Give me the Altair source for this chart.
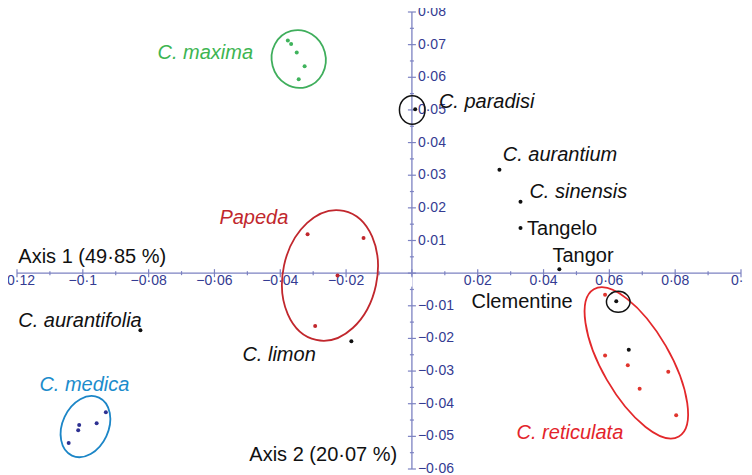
import altair as alt
import pandas as pd

# ---------------- data ----------------
maxima_x = [-0.0377, -0.0367, -0.0350, -0.0326, -0.0344]
maxima_y = [0.0713, 0.0702, 0.0676, 0.0634, 0.0594]
papeda_x = [-0.0317, -0.0147, -0.0226, -0.0294]
papeda_y = [0.0119, 0.0108, -0.0007, -0.0162]
medica_x = [-0.0930, -0.0958, -0.1011, -0.1014, -0.1043]
medica_y = [-0.0426, -0.0460, -0.0465, -0.0481, -0.0520]
reticulata_x = [0.0587, 0.0587, 0.0656, 0.0779, 0.0692, 0.0803]
reticulata_y = [-0.0066, -0.0252, -0.0282, -0.0302, -0.0354, -0.0435]
black_x = [0.0010, 0.0266, 0.0330, 0.0330, 0.0448, 0.0621, 0.0659, -0.0825, -0.0184]
black_y = [0.0502, 0.0317, 0.0219, 0.0138, 0.0012, -0.0086, -0.0235, -0.0175, -0.0209]

# ellipses: centre (data), semi-axes (px), rotation (deg), colour
ell_name = ["maxima", "papeda", "reticulata", "medica", "paradisi", "clementine"]
ell_x = [-0.0344, -0.0249, 0.0682, -0.0992, 0.0001, 0.0627]
ell_y = [0.0656, -0.0007, -0.0275, -0.0470, 0.0500, -0.0088]
ell_a = [29, 66, 85, 32, 14.3, 10.5]
ell_b = [27, 47, 34, 23, 12.8, 11.8]
ell_ang = [345, 12, 330, 25, 0, 0]
ell_col = ["#3fae5c", "#c1272d", "#e3282b", "#1c86c7", "#111111", "#111111"]

# labels
lab_text = ["C. maxima", "C. paradisi", "C. aurantium", "C. sinensis", "C. reticulata",
            "Papeda", "C. aurantifolia", "C. limon", "C. medica",
            "Tangelo", "Tangor", "Clementine", "Axis 1 (49·85 %)", "Axis 2 (20·07 %)"]
lab_x = [-0.0773, 0.0082, 0.0276, 0.0357, 0.0318,
         -0.0585, -0.1196, -0.0515, -0.1132,
         0.0350, 0.0427, 0.0181, -0.1196, -0.0494]
lab_y = [0.0656, 0.0505, 0.0345, 0.0230, -0.0508,
         0.0151, -0.0166, -0.0269, -0.0360,
         0.0118, 0.0033, -0.0106, 0.0030, -0.0577]
lab_col = ["#3db552", "#111111", "#111111", "#111111", "#e3242b",
           "#c1272d", "#111111", "#111111", "#1b8ccc",
           "#111111", "#111111", "#111111", "#111111", "#111111"]
lab_italic = [True] * 9 + [False] * 5

# axis ticks
x_major = [-0.12, -0.10, -0.08, -0.06, -0.04, -0.02, 0.0, 0.02, 0.04, 0.06, 0.08, 0.10]
x_minor = [-0.11, -0.09, -0.07, -0.05, -0.03, -0.01, 0.01, 0.03, 0.05, 0.07, 0.09]
x_labels = ["−0·12", "−0·1", "−0·08", "−0·06", "−0·04", "−0·02", "",
            "0·02", "0·04", "0·06", "0·08", "0·1"]
y_major = [-0.06, -0.05, -0.04, -0.03, -0.02, -0.01, 0.0,
           0.01, 0.02, 0.03, 0.04, 0.05, 0.06, 0.07, 0.08]
y_minor = [-0.055, -0.045, -0.035, -0.025, -0.015, -0.005,
           0.005, 0.015, 0.025, 0.035, 0.045, 0.055, 0.065, 0.075]
y_labels = ["−0·06", "−0·05", "−0·04", "−0·03", "−0·02", "−0·01", "",
            "0·01", "0·02", "0·03", "0·04", "0·05", "0·06", "0·07", "0·08"]

AXIS_COL = "#7c82c2"
TICKLAB_COL = "#343b92"
FONT = "Liberation Sans"

xs = alt.Scale(domain=[-0.12, 0.10], nice=False, zero=False)
ys = alt.Scale(domain=[-0.06, 0.08], nice=False, zero=False)

def X(f="x"):
    return alt.X(f"{f}:Q", scale=xs, axis=None)

def Y(f="y"):
    return alt.Y(f"{f}:Q", scale=ys, axis=None)

# ---------------- axes ----------------
hline = alt.Chart(pd.DataFrame({"x": [x_major[0]], "x2": [x_major[-1]], "y": [0.0]})).mark_rule(
    color=AXIS_COL, strokeWidth=1.3).encode(x=X(), x2="x2:Q", y=Y())
vline = alt.Chart(pd.DataFrame({"x": [0.0], "y": [y_major[0]], "y2": [y_major[-1]]})).mark_rule(
    color=AXIS_COL, strokeWidth=1.3).encode(x=X(), y=Y(), y2="y2:Q")

# white box of the (empty) "0" label that hides the y axis just under the x axis
zero_box = alt.Chart(pd.DataFrame({"x": [0.0], "y": [0.0]})).mark_tick(
    orient="vertical", size=11, thickness=4, color="white", opacity=1, yOffset=8, xOffset=-1.5
).encode(x=X(), y=Y())

xmaj_df = pd.DataFrame({"x": x_major, "y": [0.0] * len(x_major), "t": x_labels})
xmin_df = pd.DataFrame({"x": x_minor, "y": [0.0] * len(x_minor)})
ymaj_df = pd.DataFrame({"x": [0.0] * len(y_major), "y": y_major, "t": y_labels})
ymin_df = pd.DataFrame({"x": [0.0] * len(y_minor), "y": y_minor})

xmaj_t = alt.Chart(xmaj_df).mark_tick(orient="vertical", size=8, thickness=1.2, color=AXIS_COL, opacity=1).encode(x=X(), y=Y())
xmin_t = alt.Chart(xmin_df).mark_tick(orient="vertical", size=4, thickness=1.2, color=AXIS_COL, opacity=1).encode(x=X(), y=Y())
ymaj_t = alt.Chart(ymaj_df).mark_tick(orient="horizontal", size=8, thickness=1.2, color=AXIS_COL, opacity=1).encode(x=X(), y=Y())
ymin_t = alt.Chart(ymin_df).mark_tick(orient="horizontal", size=4, thickness=1.2, color=AXIS_COL, opacity=1).encode(x=X(), y=Y())

xlab = alt.Chart(xmaj_df).mark_text(font=FONT, fontSize=14, color=TICKLAB_COL, align="center",
                                    baseline="alphabetic", dy=12).encode(x=X(), y=Y(), text="t:N")
ylab = alt.Chart(ymaj_df).mark_text(font=FONT, fontSize=14, color=TICKLAB_COL, align="left",
                                    baseline="middle", dx=6).encode(x=X(), y=Y(), text="t:N")

# ---------------- points ----------------
def pts(xv, yv, col):
    return alt.Chart(pd.DataFrame({"x": xv, "y": yv})).mark_circle(size=16, color=col, opacity=1).encode(x=X(), y=Y())

points = [
    pts(maxima_x, maxima_y, "#3fb35c"),
    pts(papeda_x, papeda_y, "#c1272d"),
    pts(medica_x, medica_y, "#2e3192"),
    pts(reticulata_x, reticulata_y, "#e0352e"),
    pts(black_x, black_y, "#111111"),
]

# ---------------- ellipses (custom symbol path) ----------------
K = 0.5523
def ellipse_path(r):
    kr = K * r
    return (f"M 0 -1 C {kr:.4f} -1 {r:.4f} -{K} {r:.4f} 0 "
            f"C {r:.4f} {K} {kr:.4f} 1 0 1 "
            f"C -{kr:.4f} 1 -{r:.4f} {K} -{r:.4f} 0 "
            f"C -{r:.4f} -{K} -{kr:.4f} -1 0 -1 Z")

ellipses = []
for i in range(len(ell_name)):
    a, b = ell_a[i], ell_b[i]
    sw = 1.8 if i < 4 else 1.5
    ellipses.append(
        alt.Chart(pd.DataFrame({"x": [ell_x[i]], "y": [ell_y[i]]})).mark_point(
            shape=ellipse_path(b / a), size=(2 * a) ** 2, angle=ell_ang[i],
            filled=False, stroke=ell_col[i], strokeWidth=sw, opacity=1
        ).encode(x=X(), y=Y())
    )

# ---------------- labels ----------------
lab_df = pd.DataFrame({"x": lab_x, "y": lab_y, "t": lab_text, "c": lab_col, "it": lab_italic})
lab_it = alt.Chart(lab_df[lab_df["it"]]).mark_text(font=FONT, fontSize=20, fontStyle="italic",
                                                   align="left", baseline="alphabetic").encode(
    x=X(), y=Y(), text="t:N", color=alt.Color("c:N", scale=None))
lab_rm = alt.Chart(lab_df[~lab_df["it"]]).mark_text(font=FONT, fontSize=20,
                                                    align="left", baseline="alphabetic").encode(
    x=X(), y=Y(), text="t:N", color=alt.Color("c:N", scale=None))

chart = alt.layer(
    hline, vline, zero_box, xmaj_t, xmin_t, ymaj_t, ymin_t, xlab, ylab,
    *ellipses, *points, lab_it, lab_rm
).properties(
    width=724, height=457,
    padding={"left": 9, "top": 4, "right": 3, "bottom": 6},
    autosize="none",
    background="white",
).configure_view(stroke=None)

chart.save("out.html", embed_options={"renderer": "svg", "actions": False})
